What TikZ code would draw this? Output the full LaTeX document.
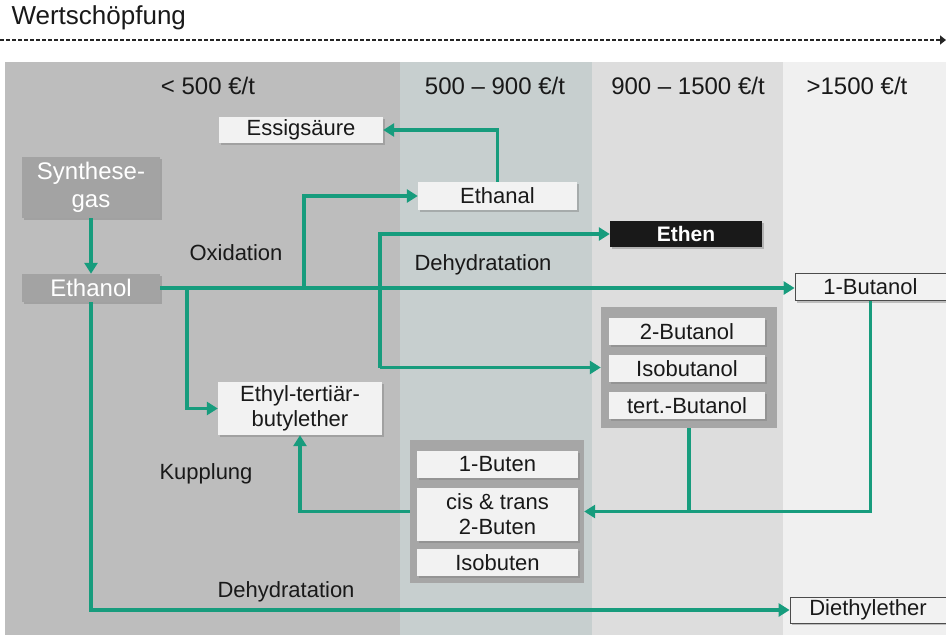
\documentclass[tikz,border=0pt]{standalone}
\usepackage{fontspec}
\setmainfont{Liberation Sans}
\usepackage{tikz}
\usetikzlibrary{positioning, shapes}
\usetikzlibrary{arrows.meta, shadows}
\definecolor{fgreen}{RGB}{23,156,125}
\definecolor{colA}{RGB}{189,189,189}
\definecolor{colB}{RGB}{199,207,207}
\definecolor{colC}{RGB}{221,221,221}
\definecolor{colD}{RGB}{240,240,240}
\definecolor{boxfill}{RGB}{242,242,242}
\definecolor{darkfill}{RGB}{163,163,163}
\definecolor{grpfill}{RGB}{166,166,166}

\begin{document}
\begin{tikzpicture}[x=1pt, y=-1pt]
        \tikzset{flow/.style = {fgreen, line width=3.5pt, -{Triangle[length=11pt,width=13pt]}}}
        \tikzset{link/.style = {fgreen, line width=3.5pt}}
        \tikzset{box/.style = {fill=boxfill, inner sep=0pt, align=center, text=black!90,
                 font=\fontsize{22}{25}\selectfont,
                 drop shadow={shadow xshift=2pt, shadow yshift=-2pt, opacity=0.45}}}
        \tikzset{darkbox/.style = {box, fill=darkfill, text=white, font=\fontsize{24}{28}\selectfont}}
        \tikzset{blackbox/.style = {box, fill=black!90, text=white, font=\bfseries\fontsize{21}{25}\selectfont}}
        \tikzset{outbox/.style = {box, draw=black!70, line width=0.8pt}}
        \tikzset{group/.style = {fill=grpfill, inner sep=0pt}}
        \tikzset{lbl/.style = {text=black!90, font=\fontsize{22}{25}\selectfont}}
        \tikzset{head/.style = {text=black!90, font=\fontsize{24}{27}\selectfont}}
        \useasboundingbox (0,0) rectangle (946,635);

        % price columns
        \fill[colA] (5,62) rectangle (400,635);
        \fill[colB] (400,62) rectangle (592,635);
        \fill[colC] (592,62) rectangle (783,635);
        \fill[colD] (783,62) rectangle (946,635);
        \node[head] (h1) at (208,86) {< 500 €/t};
        \node[head] (h2) at (495,86) {500 -- 900 €/t};
        \node[head] (h3) at (688,86) {900 -- 1500 €/t};
        \node[head] (h4) at (857,86) {>1500 €/t};

        % value chain
        \node[anchor=west, text=black!90, font=\fontsize{26}{30}\selectfont] (title) at (8,18) {Wertschöpfung};
        \coordinate (vs) at (0,40);
        \coordinate (ve) at (946,40);
        \draw[black!85, line width=2.5pt, dash pattern=on 4pt off 2pt, -{Triangle[length=6pt,width=9pt]}] (vs) -- (ve);

        % groups
        \node[group, minimum width=176, minimum height=121] (grpA) at (689,367.5) {};
        \node[group, minimum width=174, minimum height=143] (grpB) at (497,511.5) {};

        % products
        \node[box, minimum width=164, minimum height=26] (essig) at (301,130) {Essigsäure};
        \node[darkbox, minimum width=138, minimum height=61] (synth) at (91,187.5) {Synthese-\\gas};
        \node[darkbox, minimum width=138, minimum height=28] (ethanol) at (91,288) {Ethanol};
        \node[box, minimum width=159, minimum height=28] (ethanal) at (497.5,196) {Ethanal};
        \node[blackbox, minimum width=152, minimum height=26] (ethen) at (686,234) {Ethen};
        \node[outbox, minimum width=151, minimum height=27] (butA) at (870.5,287) {1-Butanol};
        \node[box, minimum width=156, minimum height=27] (butB) at (687,331.5) {2-Butanol};
        \node[box, minimum width=156, minimum height=27] (isobut) at (687,368.5) {Isobutanol};
        \node[box, minimum width=156, minimum height=27] (tbut) at (687,405.5) {tert.-Butanol};
        \node[box, minimum width=164, minimum height=53] (etbe) at (300,408.5) {Ethyl-tertiär-\\butylether};
        \node[box, minimum width=161, minimum height=27] (butenA) at (497.5,464.5) {1-Buten};
        \node[box, minimum width=161, minimum height=53] (butenB) at (497.5,514.5) {cis \& trans\\2-Buten};
        \node[box, minimum width=161, minimum height=27] (isobuten) at (497.5,562.5) {Isobuten};
        \node[outbox, minimum width=156, minimum height=26] (diethyl) at (868,610) {Diethylether};

        % process labels
        \node[lbl] (ox) at (236,253) {Oxidation};
        \node[lbl] (dh) at (483,265) {Dehydratation};
        \node[lbl] (ku) at (206,474) {Kupplung};
        \node[lbl] (dhb) at (286,592) {Dehydratation};

        % connectors
        \coordinate (oxA) at (304,288);
        \coordinate (kuA) at (187,288);
        \coordinate (dhX) at (380,0);
        \draw[flow] (synth) -- (ethanol);
        \draw[flow] (ethanol.east) -- (ethanol.east -| butA.west);
        \draw[flow] (oxA) |- (ethanal.west);
        \draw[flow] (ethanal.north) |- (essig.east);
        \draw[flow] (grpA.west -| dhX) |- (ethen.west);
        \draw[flow] (grpA.west -| dhX) -- (grpA.west);
        \draw[flow] (kuA) |- (etbe.west);
        \draw[flow] (ethanol.south) |- (diethyl.west);
        \draw[flow] (butA.south) |- (grpB.east);
        \draw[link] (grpA.south) -- (grpA.south |- grpB.east);
        \draw[flow] (grpB.west) -| (etbe.south);

\end{tikzpicture}
\end{document}
